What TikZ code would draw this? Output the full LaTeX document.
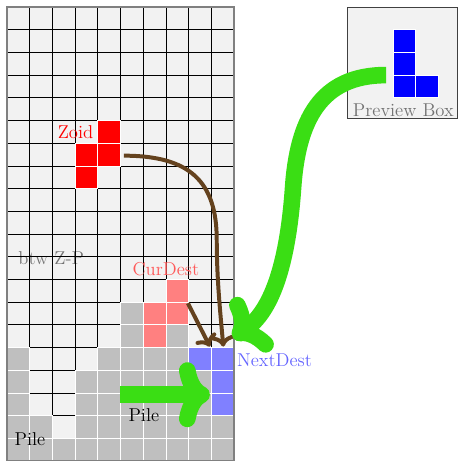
\documentclass[tikz,border=0pt]{standalone}
\usepackage{fontspec}
\usetikzlibrary{arrows.meta}
\definecolor{emptycell}{gray}{0.95}
\definecolor{pilegray}{gray}{0.75}
\definecolor{movegreen}{RGB}{58,222,20}
\definecolor{pathbrown}{RGB}{100,66,30}
\begin{document}
\begin{tikzpicture}[x=0.6cm,y=0.6cm,
  lbl/.style={font=\fontsize{14}{16}\selectfont, inner sep=0pt},
  tile/.style={draw=white, line width=0.5pt},
  pilecell/.style={tile, fill=pilegray},
  zoidcell/.style={tile, fill=red},
  curcell/.style={tile, fill=red!50},
  nextcell/.style={tile, fill=blue!50},
  prevcell/.style={tile, fill=blue},
  gridline/.style={black, line width=0.5pt},
  dropline/.style={draw=pathbrown, line width=3pt, ->},
  movearrow/.style={draw=movegreen, line width=12.5pt, -{To[round,scale=0.8]}},
]
\useasboundingbox (-0.308,0) rectangle (19.912,20.308);

% empty well with its grid
\fill[emptycell] (0,0) rectangle (10,20);
\node[lbl, text=black!55] (btw) at (1.95,8.94) {btw Z-P};
\foreach \i in {1,...,9} \draw[gridline] (\i,0) -- (\i,20);
\foreach \j in {1,...,19} \draw[gridline] (0,\j) -- (10,\j);

% settled pile, column by column (height in cells)
\foreach \c/\h in {0/5,1/2,2/1,3/4,4/5,5/7,6/5,7/6,8/4,9/2}
  \foreach \r in {1,...,\h}
    \draw[pilecell] (\c,\r-1) rectangle ++(1,1);

% falling zoid
\foreach \p in {(4,14),(3,13),(4,13),(3,12)}
  \draw[zoidcell] \p rectangle ++(1,1);
% its current destination
\foreach \p in {(7,7),(6,6),(7,6),(6,5)}
  \draw[curcell] \p rectangle ++(1,1);
% destination of the next zoid
\foreach \p in {(8,4),(9,4),(9,3),(9,2)}
  \draw[nextcell] \p rectangle ++(1,1);

% well border
\draw[gray, line width=1.5pt] (0,0) rectangle (10,20);

% preview box
\draw[fill=emptycell, draw=black!75, line width=0.6pt] (15,15.1) rectangle (19.82,20);
\foreach \p in {(17,18),(17,17),(17,16),(18,16)}
  \draw[prevcell] \p rectangle ++(1,1);
\node[lbl, text=black!55] (prevlbl) at (17.46,15.46) {Preview Box};

% labels
\node[lbl, text=red] (zoidlbl) at (3.02,14.5) {Zoid};
\node[lbl, text=red!65] (curlbl) at (7.0,8.45) {CurDest};
\node[lbl, text=blue!60, anchor=west] (nextlbl) at (10.13,4.45) {NextDest};
\node[lbl] (pileA) at (1.01,0.97) {Pile};
\node[lbl] (pileB) at (6.03,2.0) {Pile};

% connector end points
\coordinate (zoidOut) at (5.15,13.45);
\coordinate (zoidIn) at (9.53,5.04);
\coordinate (curOut) at (7.97,6.95);
\coordinate (curIn) at (8.94,5.04);
\coordinate (prevOut) at (16.7,17);
\coordinate (nextIn) at (9.96,5.42);
\coordinate (pileOut) at (4.98,2.92);
\coordinate (pileIn) at (8.94,2.92);

% drops
\draw[dropline] (zoidOut) .. controls (8.02,13.45) and (9.24,12.34) .. (9.24,9.74)
  .. controls (9.24,8) and (9.4,6.5) .. (zoidIn);
\draw[dropline] (curOut) -- (curIn);

% moves
\draw[movearrow] (prevOut) .. controls (13.8,17) and (12.8,15) .. (12.6,12)
  .. controls (12.35,8.5) and (11.6,6.6) .. (nextIn);
\draw[movearrow] (pileOut) -- (pileIn);
\end{tikzpicture}
\end{document}
